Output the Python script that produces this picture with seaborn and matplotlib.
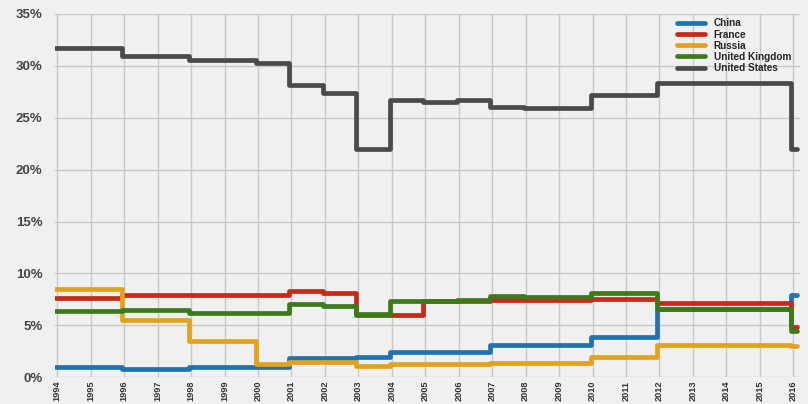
import pandas as pd
import matplotlib
matplotlib.use('Agg')
import matplotlib.pyplot as plt
import seaborn as sns

# share of the UN regular budget, % per year
years = list(range(1994, 2017))
china = [0.95, 0.95, 0.85, 0.85, 1.0, 1.0, 1.0, 1.9, 1.9, 2.0, 2.45, 2.45, 2.45,
         3.1, 3.1, 3.1, 3.9, 3.9, 6.62, 6.62, 6.62, 6.62, 7.9]
france = [7.6, 7.6, 7.9, 7.9, 7.9, 7.9, 7.9, 8.3, 8.1, 6.0, 6.0, 7.3, 7.3,
          7.45, 7.45, 7.45, 7.5, 7.5, 7.2, 7.2, 7.2, 7.2, 4.85]
russia = [8.5, 8.5, 5.5, 5.5, 3.45, 3.45, 1.25, 1.45, 1.45, 1.1, 1.3, 1.3, 1.3,
          1.37, 1.37, 1.37, 1.95, 1.95, 3.08, 3.08, 3.08, 3.08, 3.0]
uk = [6.35, 6.35, 6.5, 6.5, 6.2, 6.2, 6.2, 7.1, 6.9, 6.1, 7.35, 7.35, 7.4,
      7.8, 7.75, 7.75, 8.15, 8.15, 6.6, 6.6, 6.6, 6.6, 4.45]
us = [31.7, 31.7, 30.9, 30.9, 30.5, 30.5, 30.3, 28.1, 27.4, 22.0, 26.7, 26.5, 26.7,
      26.05, 25.95, 25.95, 27.2, 27.15, 28.35, 28.35, 28.3, 28.3, 22.0]

countries = ['China', 'France', 'Russia', 'United Kingdom', 'United States']
series = [china, france, russia, uk, us]
colors = ['#1f74b0', '#c52a1a', '#e3a21c', '#3c7a1c', '#4a4a4a']

bg = '#f0f0f0'
sns.set_style('whitegrid', {'axes.facecolor': bg, 'figure.facecolor': bg,
                            'grid.color': '#c8c8c8', 'axes.edgecolor': bg})
plt.rcParams['font.family'] = ['Liberation Sans', 'DejaVu Sans']

# step positions a touch before the year line, plus an end point past 2016
shift = -0.06
rows = []
for name, vals in zip(countries, series):
    xs = [y + shift for y in years] + [2016.1]
    vs = vals + [vals[-1]]
    for x, v in zip(xs, vs):
        rows.append({'year': x, 'share': v, 'country': name})
df = pd.DataFrame(rows)

fig, ax = plt.subplots(figsize=(8.08, 4.04), dpi=100)
fig.subplots_adjust(left=0.068, right=0.99, top=0.966, bottom=0.066)

sns.lineplot(data=df, x='year', y='share', hue='country', hue_order=countries,
             palette=colors, drawstyle='steps-post', linewidth=3.4,
             estimator=None, sort=False, ax=ax)

ax.set_xlim(1993.93, 2016.2)
ax.set_ylim(0, 35)
ax.set_xticks(years)
ax.set_xticklabels([str(y) for y in years], rotation=90, fontsize=6.6,
                   fontweight='bold', color='#333333')
ax.set_yticks(range(0, 36, 5))
ax.set_yticklabels([f'{v}%' for v in range(0, 36, 5)], fontsize=9.5,
                   fontweight='bold', color='#444444')
ax.tick_params(length=0)
ax.tick_params(axis='y', pad=9)
ax.tick_params(axis='x', pad=2.5)
ax.grid(True, linewidth=1.0)
ax.set_xlabel('')
ax.set_ylabel('')
for s in ax.spines.values():
    s.set_visible(False)

ax.legend(loc='upper right', bbox_to_anchor=(1.0, 1.012), frameon=False,
          handlelength=2.8, labelspacing=0.12, handletextpad=0.9,
          prop={'size': 7.2, 'weight': 'bold'})

plt.savefig('out.png', dpi=100, facecolor=bg)
